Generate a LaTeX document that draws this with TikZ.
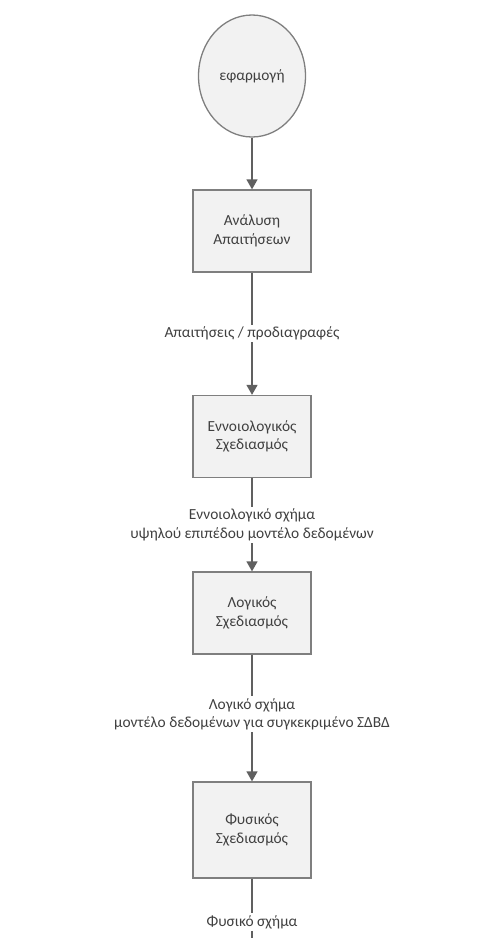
\documentclass[tikz,border=0pt]{standalone}
\usepackage{fontspec}
\setmainfont{Carlito}
\usetikzlibrary{arrows.meta,positioning}
\usetikzlibrary{shapes.geometric}
\definecolor{boxfill}{HTML}{F2F2F2}
\definecolor{boxline}{HTML}{7F7F7F}
\definecolor{flowline}{HTML}{606060}
\definecolor{txt}{HTML}{404040}

\begin{document}
\begin{tikzpicture}[x=1pt,y=-1pt,
every node/.style={font=\fontsize{15.4}{18.5}\selectfont,text=txt,align=center},
stage/.style={rectangle,draw=boxline,fill=boxfill,line width=1.3pt,minimum width=118pt,minimum height=82pt,inner sep=0pt},
start/.style={ellipse,draw=boxline,fill=boxfill,line width=1.3pt,minimum width=107pt,minimum height=122pt,inner sep=0pt},
lbl/.style={fill=white,inner sep=2pt},
flow/.style={draw=flowline,line width=1.4pt,-{Triangle[width=11pt,length=10pt]}}]
\useasboundingbox (0,0) rectangle (503,938);
\node[start] (app) at (252,76) {εφαρμογή};
\node[stage] (req) at (252,231) {Ανάλυση\\Απαιτήσεων};
\node[stage] (conc) at (252,436.5) {Εννοιολογικός\\Σχεδιασμός};
\node[stage] (logic) at (252,613) {Λογικός\\Σχεδιασμός};
\node[stage,minimum height=96pt] (phys) at (252,830) {Φυσικός\\Σχεδιασμός};
\node[lbl] (physout) at (252,922) {Φυσικό σχήμα};
\coordinate (bottom) at (252,938);
\draw[flow] (app)--(req);
\draw[flow] (req)--(conc) node[midway,lbl] {Απαιτήσεις / προδιαγραφές};
\draw[flow] (conc)--(logic) node[midway,lbl] {Εννοιολογικό σχήμα\\υψηλού επιπέδου μοντέλο δεδομένων};
\draw[flow] (logic)--(phys) node[pos=0.47,lbl] {Λογικό σχήμα\\μοντέλο δεδομένων για συγκεκριμένο ΣΔΒΔ};
\draw[draw=flowline,line width=1.4pt] (phys)--(physout)--(bottom);
\end{tikzpicture}
\end{document}
